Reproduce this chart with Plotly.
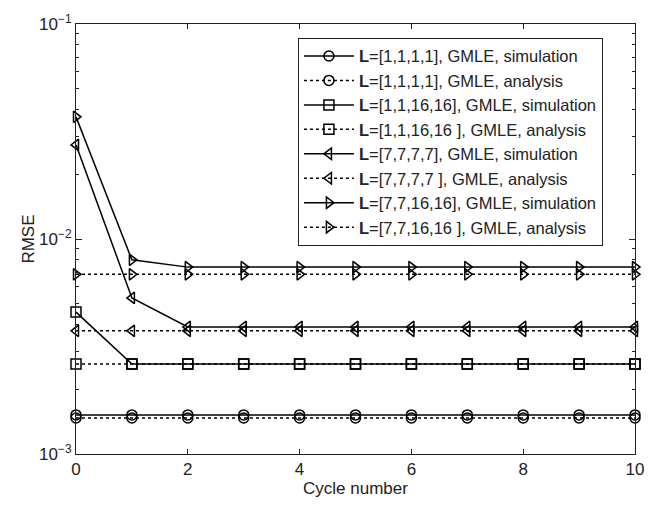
import plotly.graph_objects as go

cycles = list(range(11))

sim_1111 = [1.52e-3] * 11
ana_1111 = [1.47e-3] * 11
sim_111616 = [4.57e-3] + [2.62e-3] * 10
ana_111616 = [2.62e-3] * 11
sim_7777 = [2.74e-2, 5.32e-3] + [3.9e-3] * 9
ana_7777 = [3.74e-3] * 11
sim_771616 = [3.7e-2, 8.0e-3] + [7.4e-3] * 9
ana_771616 = [6.85e-3] * 11

series = [
    ("<b>L</b>=[1,1,1,1], GMLE, simulation", sim_1111, "solid", "circle-open"),
    ("<b>L</b>=[1,1,1,1], GMLE, analysis", ana_1111, "dot", "circle-open"),
    ("<b>L</b>=[1,1,16,16], GMLE, simulation", sim_111616, "solid", "square-open"),
    ("<b>L</b>=[1,1,16,16 ], GMLE, analysis", ana_111616, "dot", "square-open"),
    ("<b>L</b>=[7,7,7,7], GMLE, simulation", sim_7777, "solid", "triangle-left-open"),
    ("<b>L</b>=[7,7,7,7 ], GMLE, analysis", ana_7777, "dot", "triangle-left-open"),
    ("<b>L</b>=[7,7,16,16], GMLE, simulation", sim_771616, "solid", "triangle-right-open"),
    ("<b>L</b>=[7,7,16,16 ], GMLE, analysis", ana_771616, "dot", "triangle-right-open"),
]

fig = go.Figure()
for name, vals, dash, sym in series:
    fig.add_trace(go.Scatter(
        x=cycles, y=vals, name=name, mode="lines+markers",
        line=dict(color="black", width=1.5, dash=dash),
        marker=dict(symbol=sym, size=10, color="black", line=dict(width=1.5, color="black")),
        cliponaxis=False,
    ))

minor_vals = [m * 10.0 ** e for e in (-3, -2) for m in range(2, 10)]

fig.update_layout(
    width=659, height=506,
    margin=dict(l=76, r=24, t=18, b=48),
    paper_bgcolor="white", plot_bgcolor="white",
    font=dict(family="Liberation Sans, Arial", size=16, color="#222"),
    showlegend=True,
    legend=dict(
        x=0.397, y=0.968, xanchor="left", yanchor="top",
        bgcolor="white", bordercolor="#222", borderwidth=1,
        font=dict(size=16.5, color="#222"),
        itemwidth=50,
    ),
    xaxis=dict(
        range=[0, 10], tickvals=[0, 2, 4, 6, 8, 10],
        ticks="inside", ticklen=5, tickcolor="#222",
        showline=True, linecolor="#222", linewidth=1, mirror="ticks",
        showgrid=False, zeroline=False,
        title=dict(text="Cycle number", font=dict(size=17), standoff=3),
        tickfont=dict(size=17),
    ),
    yaxis=dict(
        type="log", range=[-3, -1],
        tickvals=[1e-3, 1e-2, 1e-1],
        ticktext=["10<sup>−3</sup>", "10<sup>−2</sup>", "10<sup>−1</sup>"],
        ticks="inside", ticklen=6, tickcolor="#222",
        minor=dict(ticks="inside", ticklen=3, tickvals=minor_vals, tickcolor="#222"),
        showline=True, linecolor="#222", linewidth=1, mirror="ticks",
        showgrid=False, zeroline=False,
        title=dict(text="RMSE", font=dict(size=17), standoff=0),
        tickfont=dict(size=17),
    ),
)

fig.write_html("out.html")
